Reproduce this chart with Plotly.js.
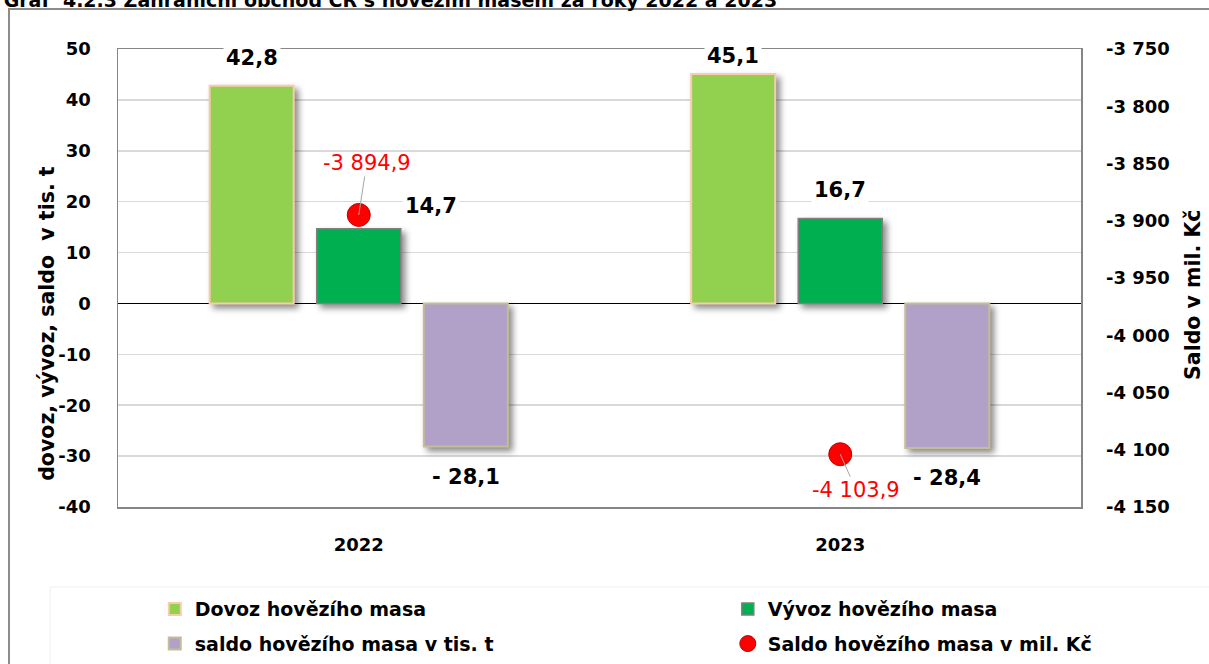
<!DOCTYPE html>
<html>
<head>
<meta charset="utf-8">
<script src="https://cdn.plot.ly/plotly-3.0.1.min.js"></script>
<style>
  html, body { margin: 0; padding: 0; background: #ffffff; }
  #chart { width: 1209px; height: 664px; }
  #chart .bars .point path { filter: drop-shadow(4px 4px 3px rgba(0,0,0,0.45)); }
</style>
</head>
<body>
<div id="chart"></div>
<script>
// ---- data ----
const categories = ['2022', '2023'];
const dovoz = [42.8, 45.1];        // Dovoz hovězího masa (tis. t)
const vyvoz = [14.7, 16.7];        // Vývoz hovězího masa (tis. t)
const saldoT = [-28.1, -28.4];     // saldo v tis. t
const saldoKc = [-3894.9, -4103.9];// saldo v mil. Kč
const leftTicks = [-40, -30, -20, -10, 0, 10, 20, 30, 40, 50];
const rightTicks = [-4150, -4100, -4050, -4000, -3950, -3900, -3850, -3800, -3750];

const seriesNames = ['Dovoz hovězího masa', 'Vývoz hovězího masa', 'saldo hovězího masa v tis. t', 'Saldo hovězího masa v mil. Kč'];

// ---- formatting helpers ----
function fmt(v, dec) {
  const neg = v < 0;
  let s = Math.abs(v).toFixed(dec);
  let [ip, fp] = s.split('.');
  ip = ip.replace(/\B(?=(\d{3})+(?!\d))/g, ' ');
  return (neg ? '-' : '') + ip + (fp !== undefined ? ',' + fp : '');
}
function barLabel(v) { return v < 0 ? '- ' + fmt(-v, 1) : fmt(v, 1); }

const FONT = 'DejaVu Sans, Open Sans, sans-serif';

// ---- traces ----
const traces = [
  { type: 'bar', name: seriesNames[0], x: categories, y: dovoz,
    marker: { color: '#92d050', line: { color: '#f8cbad', width: 2 } },
    legend: 'legend', legendgroup: 'a' },
  { type: 'bar', name: seriesNames[1], x: categories, y: vyvoz,
    marker: { color: '#00b050', line: { color: '#7f7f7f', width: 1.5 } },
    legend: 'legend2', legendgroup: 'b' },
  { type: 'bar', name: seriesNames[2], x: categories, y: saldoT,
    marker: { color: '#b1a0c7', line: { color: '#c4bd97', width: 2 } },
    legend: 'legend', legendgroup: 'c' },
  { type: 'scatter', mode: 'markers', name: seriesNames[3], x: categories, y: saldoKc,
    yaxis: 'y2',
    marker: { color: '#ff0000', size: 23, line: { color: '#c00000', width: 1 } },
    legend: 'legend2', legendgroup: 'd' }
];

// ---- label placement (pixel offsets, style only) ----
const slot = 107; // px between grouped bar centres
const barSeries = [dovoz, vyvoz, saldoT];
const labelShift = [
  [{ dx: 0, dy: 28 }, { dx: 0, dy: 18 }],
  [{ dx: 72, dy: 23 }, { dx: 0, dy: 28 }],
  [{ dx: 0, dy: -31 }, { dx: 0, dy: -30 }]
];
const annotations = [];
barSeries.forEach((arr, si) => {
  arr.forEach((v, ci) => {
    annotations.push({
      xref: 'x', yref: 'y', x: ci, y: v,
      xshift: (si - 1) * slot + labelShift[si][ci].dx,
      yshift: labelShift[si][ci].dy,
      text: barLabel(v), showarrow: false,
      xanchor: 'center', yanchor: 'middle',
      bgcolor: '#ffffff', borderpad: 2,
      font: { family: FONT, size: 21, color: '#000000', weight: 'bold' }
    });
  });
});
const kcArrow = [{ ax: 8, ay: -52 }, { ax: 16, ay: 36 }];
saldoKc.forEach((v, ci) => {
  annotations.push({
    xref: 'x', yref: 'y2', x: ci, y: v,
    text: fmt(v, 1), showarrow: true, arrowhead: 0, arrowwidth: 1,
    arrowcolor: '#a6a6a6', standoff: 0,
    ax: kcArrow[ci].ax, ay: kcArrow[ci].ay,
    font: { family: FONT, size: 21, color: '#ff0000' }
  });
});
// axis titles
annotations.push({
  xref: 'paper', yref: 'paper', x: -0.0737, y: 0.400, textangle: -90,
  text: 'dovoz, vývoz, saldo  v tis. t', showarrow: false,
  xanchor: 'center', yanchor: 'middle',
  font: { family: FONT, size: 20.5, color: '#000000', weight: 'bold' }
});
annotations.push({
  xref: 'paper', yref: 'paper', x: 1.1163, y: 0.463, textangle: -90,
  text: 'Saldo v mil. Kč', showarrow: false,
  xanchor: 'center', yanchor: 'middle',
  font: { family: FONT, size: 20.5, color: '#000000', weight: 'bold' }
});

const layout = {
  width: 1209, height: 664,
  margin: { l: 118, r: 128, t: 49, b: 157, autoexpand: false },
  paper_bgcolor: '#ffffff', plot_bgcolor: '#ffffff',
  font: { family: FONT, size: 18, color: '#000000' },
  title: {
    text: 'Graf  4.2.3 Zahraniční obchod ČR s hovězím masem za roky 2022 a 2023',
    x: 0.003, xanchor: 'left', xref: 'container',
    y: 1, yanchor: 'middle', yref: 'container',
    font: { family: FONT, size: 19, color: '#000000', weight: 'bold' }
  },
  barmode: 'group', bargap: 0.333, bargroupgap: 0.215,
  showlegend: true,
  xaxis: {
    type: 'category', range: [-0.5, 1.5],
    showline: true, mirror: true, linecolor: '#868686', linewidth: 1.5,
    showgrid: false, ticks: '', ticklabelstandoff: 21,
    tickfont: { family: FONT, size: 18, color: '#000000', weight: 'bold' }
  },
  yaxis: {
    range: [-40, 50], tickvals: leftTicks, ticktext: leftTicks.map(v => String(v)),
    showline: true, mirror: true, linecolor: '#868686', linewidth: 1.5,
    showgrid: true, gridcolor: '#d9d9d9', gridwidth: 1.5,
    zeroline: true, zerolinecolor: '#000000', zerolinewidth: 1.8,
    ticks: '', ticklabelstandoff: 22,
    tickfont: { family: FONT, size: 18, color: '#000000', weight: 'bold' }
  },
  yaxis2: {
    overlaying: 'y', side: 'right',
    range: [-4150, -3750], tickvals: rightTicks, ticktext: rightTicks.map(v => fmt(v, 0)),
    showline: false, showgrid: false, zeroline: false,
    ticks: '', ticklabelstandoff: 24,
    tickfont: { family: FONT, size: 18, color: '#000000', weight: 'bold' }
  },
  legend: {
    orientation: 'v', xref: 'container', yref: 'container',
    x: 0.128, xanchor: 'left', y: 0.1114, yanchor: 'top',
    traceorder: 'grouped', tracegroupgap: 7, bgcolor: 'rgba(0,0,0,0)',
    font: { family: FONT, size: 19, color: '#000000', weight: 'bold' }
  },
  legend2: {
    orientation: 'v', xref: 'container', yref: 'container',
    x: 0.602, xanchor: 'left', y: 0.1114, yanchor: 'top',
    traceorder: 'grouped', tracegroupgap: 7, bgcolor: 'rgba(0,0,0,0)',
    font: { family: FONT, size: 19, color: '#000000', weight: 'bold' }
  },
  shapes: [
    { type: 'rect', xref: 'paper', yref: 'paper', x0: -0.1132, x1: 1.2, y0: -0.4, y1: 1.0873,
      line: { color: '#8c8c8c', width: 2 }, fillcolor: 'rgba(0,0,0,0)', layer: 'below' },
    { type: 'rect', xref: 'paper', yref: 'paper', x0: -0.0706, x1: 1.2, y0: -0.4, y1: -0.1747,
      line: { color: '#f0f0f0', width: 1 }, fillcolor: 'rgba(0,0,0,0)', layer: 'below' }
  ],
  annotations: annotations,
  hovermode: false
};

Plotly.newPlot('chart', traces, layout, { staticPlot: true, displayModeBar: false });
</script>
</body>
</html>
